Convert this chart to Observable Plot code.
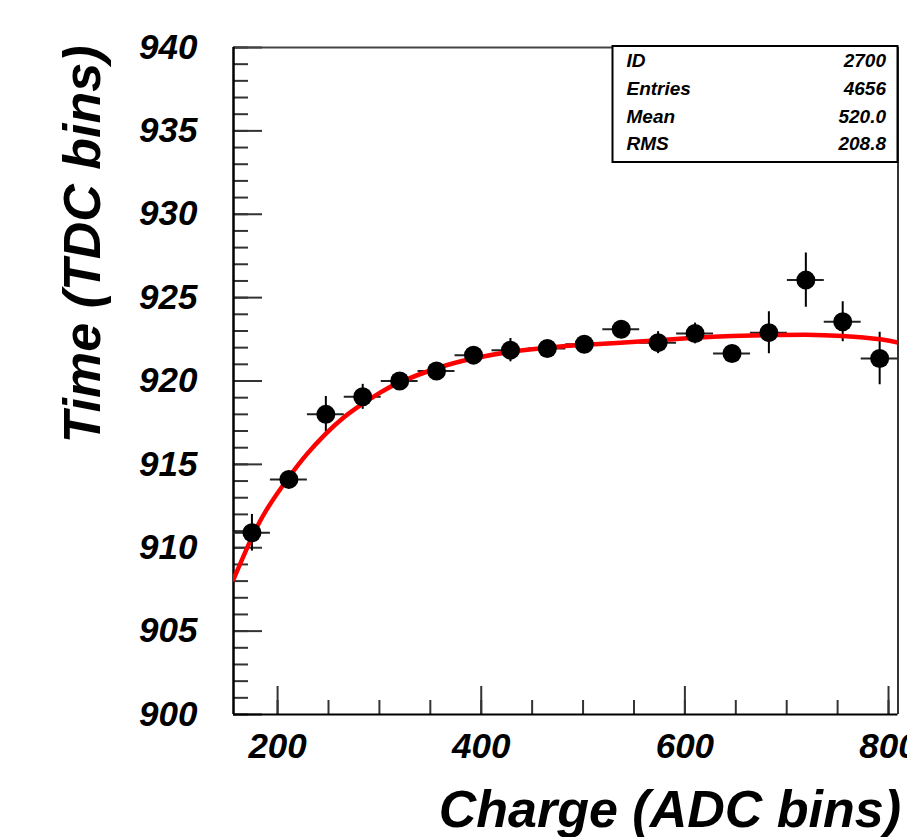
<!DOCTYPE html>
<html>
<head>
<meta charset="utf-8">
<script src="https://cdn.jsdelivr.net/npm/d3@7"></script>
<script src="https://cdn.jsdelivr.net/npm/@observablehq/plot@0.6"></script>
<style>
html, body { margin: 0; padding: 0; background: #fff; overflow: hidden; }
#chart { width: 907px; height: 837px; overflow: hidden; }
</style>
</head>
<body>
<div id="chart"></div>
<script>
// Profile: mean TDC time per ADC charge bin
const binCenters = [174.8, 211.1, 247.4, 283.6, 319.9, 356.1, 392.4, 428.7, 464.9,
                    501.2, 537.5, 573.7, 610.0, 646.3, 682.5, 718.8, 755.0, 791.3];
const meanTime   = [910.9, 914.1, 918.0, 919.05, 920.0, 920.6, 921.55, 921.85, 921.95,
                    922.2, 923.1, 922.3, 922.85, 921.65, 922.9, 926.05, 923.55, 921.35];
const timeError  = [1.1, 0.4, 1.07, 0.75, 0.35, 0.4, 0.4, 0.7, 0.4,
                    0.45, 0.45, 0.66, 0.62, 0.5, 1.26, 1.62, 1.2, 1.57];
const binHalfWidth = 18.13;

// Fitted time-walk curve, sampled along the charge axis
const fitCharge = [156.7, 173.1, 189.4, 210.7, 228.6, 246.7, 264.6, 282.7, 300.7, 319.3,
                   355.5, 392.0, 428.5, 465.0, 501.0, 537.0, 574.0, 610.0, 646.0, 682.0,
                   718.5, 755.0, 792.0, 809.3];
const fitTime   = [908.1, 910.4, 912.3, 914.2, 915.6, 916.8, 917.8, 918.6, 919.3, 919.9,
                   920.75, 921.35, 921.75, 922.0, 922.17, 922.3, 922.45, 922.6, 922.7, 922.75,
                   922.78, 922.7, 922.5, 922.3];

const xMajorTicks = [200, 400, 600, 800];
const xMinorTicks = [200, 250, 300, 350, 400, 450, 500, 550, 600, 650, 700, 750, 800];
const yMajorTicks = [900, 905, 910, 915, 920, 925, 930, 935, 940];
const yMinorTicks = d3.range(900, 941, 1);

const statsLabels = ["ID", "Entries", "Mean", "RMS"];
const statsValues = ["2700", "4656", "520.0", "208.8"];

const xTitle = "Charge (ADC bins)";
const yTitle = "Time (TDC bins)";

const xDomain = [156.7, 809.3];
const yDomain = [900, 940];

const W = 907, H = 837;
const margin = {top: 47, right: 9.5, bottom: 123, left: 233};
const frameW = W - margin.left - margin.right;
const frameH = H - margin.top - margin.bottom;

const font = "'Liberation Sans', Arial, Helvetica, sans-serif";
const textStyle = {fontFamily: font, fontWeight: "bold", fontStyle: "italic", fill: "black"};

const points = binCenters.map((x, i) => ({x, y: meanTime[i], e: timeError[i]}));
const fit = fitCharge.map((x, i) => ({x, y: fitTime[i]}));

const tickColor = "#333";

const plot = Plot.plot({
  width: W,
  height: H,
  marginTop: margin.top,
  marginRight: margin.right,
  marginBottom: margin.bottom,
  marginLeft: margin.left,
  style: {background: "white"},
  x: {domain: xDomain, axis: null},
  y: {domain: yDomain, axis: null},
  marks: [
    // tick marks pointing into the frame
    Plot.tickY(yMinorTicks, {y: d => d, insetRight: frameW - 15, stroke: tickColor, strokeWidth: 2}),
    Plot.tickY(yMajorTicks, {y: d => d, insetRight: frameW - 29, stroke: tickColor, strokeWidth: 2}),
    Plot.tickX(xMinorTicks, {x: d => d, insetTop: frameH - 14, stroke: tickColor, strokeWidth: 2}),
    Plot.tickX(xMajorTicks, {x: d => d, insetTop: frameH - 28, stroke: tickColor, strokeWidth: 2}),

    // frame
    Plot.ruleY([yDomain[1]], {stroke: "#444", strokeWidth: 2}),
    Plot.ruleX([xDomain[1]], {stroke: "#333", strokeWidth: 2}),
    Plot.ruleY([yDomain[0]], {stroke: "black", strokeWidth: 2}),
    Plot.ruleX([xDomain[0]], {stroke: "black", strokeWidth: 2.5}),

    // error bars
    Plot.ruleY(points, {y: "y", x1: d => d.x - binHalfWidth, x2: d => d.x + binHalfWidth,
                        stroke: "#222", strokeWidth: 2, clip: true}),
    Plot.ruleX(points, {x: "x", y1: d => d.y - d.e, y2: d => d.y + d.e,
                        stroke: "black", strokeWidth: 2, clip: true}),

    // fit
    Plot.line(fit, {x: "x", y: "y", stroke: "#ff0000", strokeWidth: 4.5, curve: "natural", clip: true}),

    // markers
    Plot.dot(points, {x: "x", y: "y", r: 9.5, fill: "black", stroke: "none"}),

    // tick labels
    Plot.text(yMajorTicks, {y: d => d, text: d => String(d), frameAnchor: "left", dx: -36,
                            textAnchor: "end", fontSize: 35, ...textStyle}),
    Plot.text(xMajorTicks, {x: d => d, text: d => String(d), frameAnchor: "bottom", dy: 19,
                            lineAnchor: "top", fontSize: 35, ...textStyle}),

    // axis titles
    Plot.text([xTitle], {text: d => d, frameAnchor: "bottom-right", textAnchor: "end",
                         lineAnchor: "bottom", dx: 3, dy: 112, fontSize: 52, ...textStyle}),
    Plot.text([yTitle], {text: d => d, frameAnchor: "top-left", rotate: -90, textAnchor: "end",
                         lineAnchor: "bottom", dx: -134, dy: -2, fontSize: 52, ...textStyle})
  ]
});

// statistics box in the upper-right corner of the frame
const svg = d3.select(plot);
const boxRight = margin.left + frameW;
const boxW = 285, boxH = 116;
const boxLeft = boxRight - boxW, boxTop = margin.top - 1;
const stats = svg.append("g");
stats.append("rect")
  .attr("x", boxLeft).attr("y", boxTop)
  .attr("width", boxW).attr("height", boxH)
  .attr("fill", "white").attr("stroke", "black").attr("stroke-width", 2);
const rowStep = 27.6, firstBaseline = boxTop + 21.3;
statsLabels.forEach((label, i) => {
  const yb = firstBaseline + i * rowStep;
  stats.append("text")
    .attr("x", boxLeft + 14).attr("y", yb)
    .attr("text-anchor", "start")
    .attr("font-family", font).attr("font-weight", "bold").attr("font-style", "italic")
    .attr("font-size", 19).attr("fill", "black")
    .text(label);
  stats.append("text")
    .attr("x", boxRight - 11.5).attr("y", yb)
    .attr("text-anchor", "end")
    .attr("font-family", font).attr("font-weight", "bold").attr("font-style", "italic")
    .attr("font-size", 19).attr("fill", "black")
    .text(statsValues[i]);
});

document.getElementById("chart").append(plot);
</script>
</body>
</html>
